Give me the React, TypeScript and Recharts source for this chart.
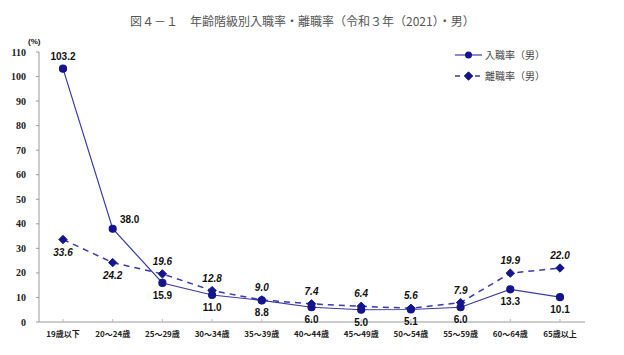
import { LineChart, Line, XAxis, YAxis, LabelList } from "recharts";

const categories = [
  "19歳以下", "20～24歳", "25～29歳", "30～34歳", "35～39歳", "40～44歳",
  "45～49歳", "50～54歳", "55～59歳", "60～64歳", "65歳以上",
];
const entryRate = [103.2, 38.0, 15.9, 11.0, 8.8, 6.0, 5.0, 5.1, 6.0, 13.3, 10.1];
const exitRate = [33.6, 24.2, 19.6, 12.8, 9.0, 7.4, 6.4, 5.6, 7.9, 19.9, 22.0];
const yTicks = [0, 10, 20, 30, 40, 50, 60, 70, 80, 90, 100, 110];

// where each value label sits relative to its point
const entryLabelPos = ["above", "right", "below", "below", "below", "below", "below", "below", "below", "below", "below"];
const exitLabelPos = ["below", "below", "above", "above", "above", "above", "above", "above", "above", "above", "above"];

const data = categories.map((name, i) => ({
  name,
  entry: entryRate[i],
  exit: exitRate[i],
}));

const NAVY = "#14148c";
const LINE = "#3a3aa8";
const JP = "'Noto Sans CJK JP', 'Liberation Sans', sans-serif";

const Diamond = (props: any) => {
  const { cx, cy } = props;
  if (cx == null || cy == null) return null;
  const s = 4.2;
  return (
    <path
      d={`M${cx},${cy - s}L${cx + s},${cy}L${cx},${cy + s}L${cx - s},${cy}Z`}
      fill={NAVY}
      stroke={NAVY}
    />
  );
};

const makeLabel = (positions: string[], italic: boolean) => (props: any) => {
  const { x, y, value, index } = props;
  const pos = positions[index];
  let lx = x;
  let ly = y;
  if (pos === "above") ly = y - 9;
  else if (pos === "below") ly = y + 16;
  else if (pos === "right") {
    lx = x + 17;
    ly = y - 6;
  }
  return (
    <text
      x={lx}
      y={ly}
      textAnchor="middle"
      fontSize={10}
      fontWeight="bold"
      fontStyle={italic ? "italic" : "normal"}
      fill="#111"
      fontFamily="'Liberation Sans', Arial, sans-serif"
    >
      {Number(value).toFixed(1)}
    </text>
  );
};

const LegendBox = () => (
  <svg width={110} height={40} style={{ position: "absolute", left: 452, top: 47 }}>
    <line x1={3} y1={8} x2={30} y2={8} stroke={LINE} strokeWidth={1.2} />
    <circle cx={16.5} cy={8} r={3.5} fill={NAVY} />
    <text x={33} y={11.5} fontSize={10} fill="#444" fontFamily={JP}>入職率（男）</text>
    <line x1={3} y1={29} x2={30} y2={29} stroke={LINE} strokeWidth={1.5} strokeDasharray="5 5" />
    <Diamond cx={16.5} cy={29} />
    <text x={33} y={32.5} fontSize={10} fill="#444" fontFamily={JP}>離職率（男）</text>
  </svg>
);

export default function App() {
  return (
    <div style={{ position: "absolute", left: 0, top: 0, width: 624, height: 355, background: "#fff" }}>
      <div
        style={{
          position: "absolute",
          left: 130,
          top: 12,
          fontSize: 12,
          color: "#555",
          fontFamily: JP,
          whiteSpace: "nowrap",
        }}
      >
        図４－１　年齢階級別入職率・離職率（令和３年（2021）・男）
      </div>
      <div
        style={{
          position: "absolute",
          left: 28,
          top: 37,
          fontSize: 8,
          fontWeight: "bold",
          fontFamily: "'Liberation Sans', Arial, sans-serif",
          color: "#111",
        }}
      >
        (%)
      </div>
      <LineChart
        width={624}
        height={355}
        data={data}
        margin={{ top: 52, right: 39, bottom: 0, left: 0 }}
      >
        <XAxis
          dataKey="name"
          interval={0}
          tickSize={-3}
          tickMargin={12}
          tickLine={{ stroke: "#bbb" }}
          padding={{ left: 24, right: 25 }}
          axisLine={{ stroke: "#999" }}
          height={33}
          tick={{ fontSize: 8, fontWeight: "bold", fill: "#222", fontFamily: JP }}
        />
        <YAxis
          domain={[0, 110]}
          ticks={yTicks}
          interval={0}
          width={39}
          tickSize={3}
          tickMargin={10}
          axisLine={{ stroke: "#999" }}
          tickLine={{ stroke: "#999" }}
          tick={{ fontSize: 10, fontWeight: "bold", fill: "#222", fontFamily: "'Liberation Serif', serif" }}
        />
        <Line
          dataKey="entry"
          stroke={LINE}
          strokeWidth={1.2}
          dot={{ r: 3.5, fill: NAVY, stroke: NAVY }}
          isAnimationActive={false}
        >
          <LabelList dataKey="entry" content={makeLabel(entryLabelPos, false)} />
        </Line>
        <Line
          dataKey="exit"
          stroke={LINE}
          strokeWidth={1.5}
          strokeDasharray="6 5"
          dot={<Diamond />}
          isAnimationActive={false}
        >
          <LabelList dataKey="exit" content={makeLabel(exitLabelPos, true)} />
        </Line>
      </LineChart>
      <LegendBox />
    </div>
  );
}
